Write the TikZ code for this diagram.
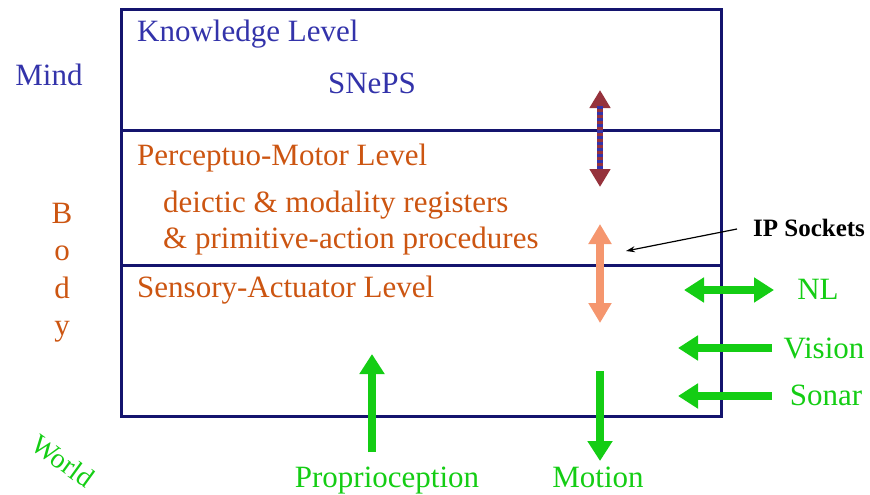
\documentclass[tikz,border=0pt]{standalone}
\usepackage{fontspec}
\setmainfont{Liberation Serif}
\usetikzlibrary{arrows.meta}
\definecolor{navy}{RGB}{20,20,110}
\definecolor{kblue}{RGB}{51,51,170}
\definecolor{pmorange}{RGB}{204,85,17}
\definecolor{salmon}{RGB}{245,150,110}
\definecolor{brgreen}{RGB}{20,205,20}
\definecolor{arrred}{RGB}{150,50,60}
\tikzset{
  frame/.style={draw=navy,line width=3pt},
  bigfont/.style={font=\fontsize{31}{38}\selectfont,inner sep=0pt},
  kb/.style={bigfont,text=kblue,anchor=base west},
  pm/.style={bigfont,text=pmorange,anchor=base west},
  gr/.style={bigfont,text=brgreen},
  garrow/.style={draw=brgreen,line width=8pt,-{Triangle[length=20pt,width=24pt]}},
  gdarrow/.style={draw=brgreen,line width=8pt,{Triangle[length=20pt,width=24pt]}-{Triangle[length=20pt,width=24pt]}},
}
\begin{document}
\begin{tikzpicture}[x=1pt,y=-1pt]
\useasboundingbox (0,0) rectangle (870,495);
% frame
\draw[frame] (121,10) rectangle (721,416);
\draw[frame] (121,130) -- (721,130);
\draw[frame] (121,265) -- (721,265);
% texts
\node[kb] (kl) at (137,42) {Knowledge Level};
\node[bigfont,text=kblue,anchor=base] (sneps) at (372,93) {SNePS};
\node[bigfont,text=kblue,anchor=base] (mind) at (49,85) {Mind};
\node[pm] (pml) at (137,165) {Perceptuo-Motor Level};
\node[pm] (dm) at (163,212) {deictic \& modality registers};
\node[pm] (pa) at (163,248) {\& primitive-action procedures};
\node[pm] (sal) at (137,297) {Sensory-Actuator Level};
\node[bigfont,text=pmorange,anchor=base] (bB) at (62,223) {B};
\node[bigfont,text=pmorange,anchor=base] (bo) at (62,260.5) {o};
\node[bigfont,text=pmorange,anchor=base] (bd) at (62,298) {d};
\node[bigfont,text=pmorange,anchor=base] (by) at (62,335.5) {y};
\node[font=\fontsize{28}{30}\selectfont,inner sep=0pt,text=brgreen,rotate=-36] (world) at (63,461) {World};
\node[gr] (nl) at (818,289) {NL};
\node[gr] (vision) at (824,348) {Vision};
\node[gr] (sonar) at (826,395) {Sonar};
\node[gr,anchor=base] (prop) at (387,487) {Proprioception};
\node[gr,anchor=base] (motion) at (598,487) {Motion};
\node[font=\bfseries\fontsize{25}{27}\selectfont,inner sep=0pt] (ip) at (809,228) {IP Sockets};
% arrow coordinates
\coordinate (kt) at (600,90);
\coordinate (kbm) at (600,187);
\coordinate (pt) at (600,224);
\coordinate (pb) at (600,323);
\coordinate (nla) at (684,290);
\coordinate (nlb) at (774,290);
\coordinate (va) at (772,348);
\coordinate (vb) at (678,348);
\coordinate (sa) at (772,396);
\coordinate (sb) at (678,396);
\coordinate (pra) at (372,452);
\coordinate (prb) at (372,354);
\coordinate (ma) at (600,371);
\coordinate (mb) at (600,461);
\coordinate (ipt) at (626,251);
\coordinate (ips) at (737,229);
% knowledge/PM arrow
\draw[draw=arrred,fill=arrred,line width=6pt,{Triangle[length=18pt,width=20pt]}-{Triangle[length=18pt,width=20pt]}] (kt) -- (kbm);
\draw[draw=kblue,line width=6pt,dash pattern=on 3pt off 3pt,shorten <=16pt,shorten >=16pt] (kt) -- (kbm);
% PM/SA arrow
\draw[draw=salmon,line width=8pt,{Triangle[length=20pt,width=22pt]}-{Triangle[length=20pt,width=22pt]}] (pt) -- (pb);
% green arrows
\draw[gdarrow] (nla) -- (nlb);
\draw[garrow] (va) -- (vb);
\draw[garrow] (sa) -- (sb);
\draw[garrow] (pra) -- (prb);
\draw[garrow] (ma) -- (mb);
% IP sockets pointer
\draw[line width=1.2pt,-{Stealth[length=9pt,width=6pt]}] (ips) -- (ipt);
\end{tikzpicture}
\end{document}
